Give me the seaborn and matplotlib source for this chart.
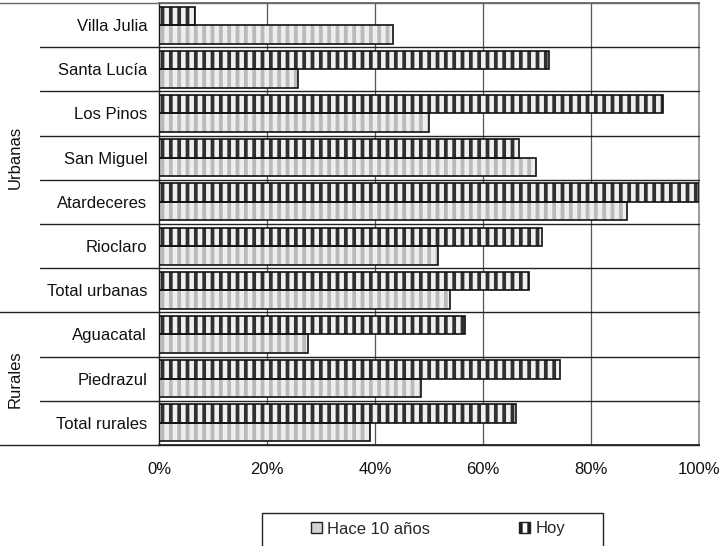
import matplotlib
matplotlib.use("Agg")
import matplotlib.pyplot as plt
from matplotlib.patches import Rectangle, Patch
import seaborn as sns
import pandas as pd

categories = ["Villa Julia", "Santa Lucía", "Los Pinos", "San Miguel", "Atardeceres",
              "Rioclaro", "Total urbanas", "Aguacatal", "Piedrazul", "Total rurales"]
groups = ["Urbanas"] * 7 + ["Rurales"] * 3
hoy = [6.7, 72.3, 93.3, 66.7, 100.0, 71.0, 68.5, 56.7, 74.3, 66.2]
hace = [43.3, 25.7, 50.0, 69.9, 86.7, 51.7, 53.8, 27.5, 48.6, 39.1]
series = ["Hoy", "Hace 10 años"]
xticks = [0, 20, 40, 60, 80, 100]

df = pd.concat([
    pd.DataFrame({"cat": categories, "serie": series[0], "val": hoy}),
    pd.DataFrame({"cat": categories, "serie": series[1], "val": hace}),
])

sns.set_theme(style="white")
plt.rcParams["font.family"] = ["Liberation Sans", "DejaVu Sans"]
plt.rcParams["hatch.linewidth"] = 2.7
FS = 12

fig = plt.figure(figsize=(7.22, 5.46), dpi=100)
ax = fig.add_axes([159 / 722, 1 - 445 / 546, 540 / 722, 442 / 546])

sns.barplot(data=df, y="cat", x="val", hue="serie", hue_order=series, order=categories,
            orient="h", width=0.84, errorbar=None, legend=False, ax=ax)

styles = {
    "Hoy": dict(face="#f0f0f0", hatch_color="#303030"),
    "Hace 10 años": dict(face="#eeeeee", hatch_color="#bababa"),
}
bars = list(ax.patches)
n = len(categories)
for i, p in enumerate(bars):
    s = styles[series[i // n]]
    p.set_facecolor(s["face"])
    p.set_edgecolor(s["hatch_color"])
    p.set_hatch("||")
    p.set_linewidth(0)
    p.set_zorder(2)
    ax.add_patch(Rectangle(p.get_xy(), p.get_width(), p.get_height(), fill=False,
                           edgecolor="#111111", linewidth=1.2, zorder=3))

ax.set_xlim(0, 100)
ax.set_ylim(len(categories) - 0.5, -0.5)
ax.set_xticks(xticks)
ax.set_xticklabels([f"{t}%" for t in xticks], fontsize=FS)
ax.set_xlabel("")
ax.set_ylabel("")
ax.tick_params(axis="x", length=4, width=0.8, color="#222222", pad=8, direction="out")
ax.tick_params(axis="y", length=0, pad=8.5, labelsize=FS)
for t in ax.get_yticklabels() + ax.get_xticklabels():
    t.set_color("#111111")

for t in xticks[1:-1]:
    ax.axvline(t, color="#555555", lw=0.9, zorder=1)

ax.spines["left"].set_color("#222222")
ax.spines["left"].set_linewidth(1.0)
ax.spines["right"].set_color("#8a8a8a")
ax.spines["right"].set_linewidth(1.2)
ax.spines["top"].set_color("#666666")
ax.spines["bottom"].set_color("#222222")
for sp in ax.spines.values():
    sp.set_visible(True)

# separators in the label area
trans = ax.get_yaxis_transform()
for i in range(len(categories) + 1):
    y = i - 0.5
    if i == 0 or i == len(categories) or groups[i] != groups[i - 1]:
        x0 = -159 / 540
    else:
        x0 = -119 / 540
    col = "#666666" if i == 0 else "#222222"
    ax.plot([x0, 1], [y, y], transform=trans, clip_on=False, color=col, lw=1.0, zorder=4)

# group labels
for g in ["Urbanas", "Rurales"]:
    idx = [i for i, gg in enumerate(groups) if gg == g]
    yc = (idx[0] + idx[-1]) / 2
    ax.text(-144 / 540, yc, g, transform=trans, rotation=90, ha="center", va="center",
            fontsize=FS, color="#111111")

# legend
handles = [
    Patch(facecolor="#d4d4d4", edgecolor="#222222", linewidth=1.0, label=series[1]),
    Patch(facecolor="#ffffff", edgecolor="#222222", linewidth=1.0, hatch="||", label=series[0]),
]
leg = fig.legend(handles=handles, loc="center left", ncol=2, frameon=False,
                 bbox_to_anchor=(304 / 722, 1 - 529 / 546), fontsize=FS,
                 handlelength=0.65, handleheight=0.65, handletextpad=0.35,
                 columnspacing=5.3, borderaxespad=0)
fig.patches.append(Rectangle((262 / 722, -0.05), 341 / 722, 0.05 + (546 - 513) / 546,
                             transform=fig.transFigure, fill=False, edgecolor="#222222",
                             linewidth=1.0, figure=fig))

fig.savefig("out.png", dpi=100)
